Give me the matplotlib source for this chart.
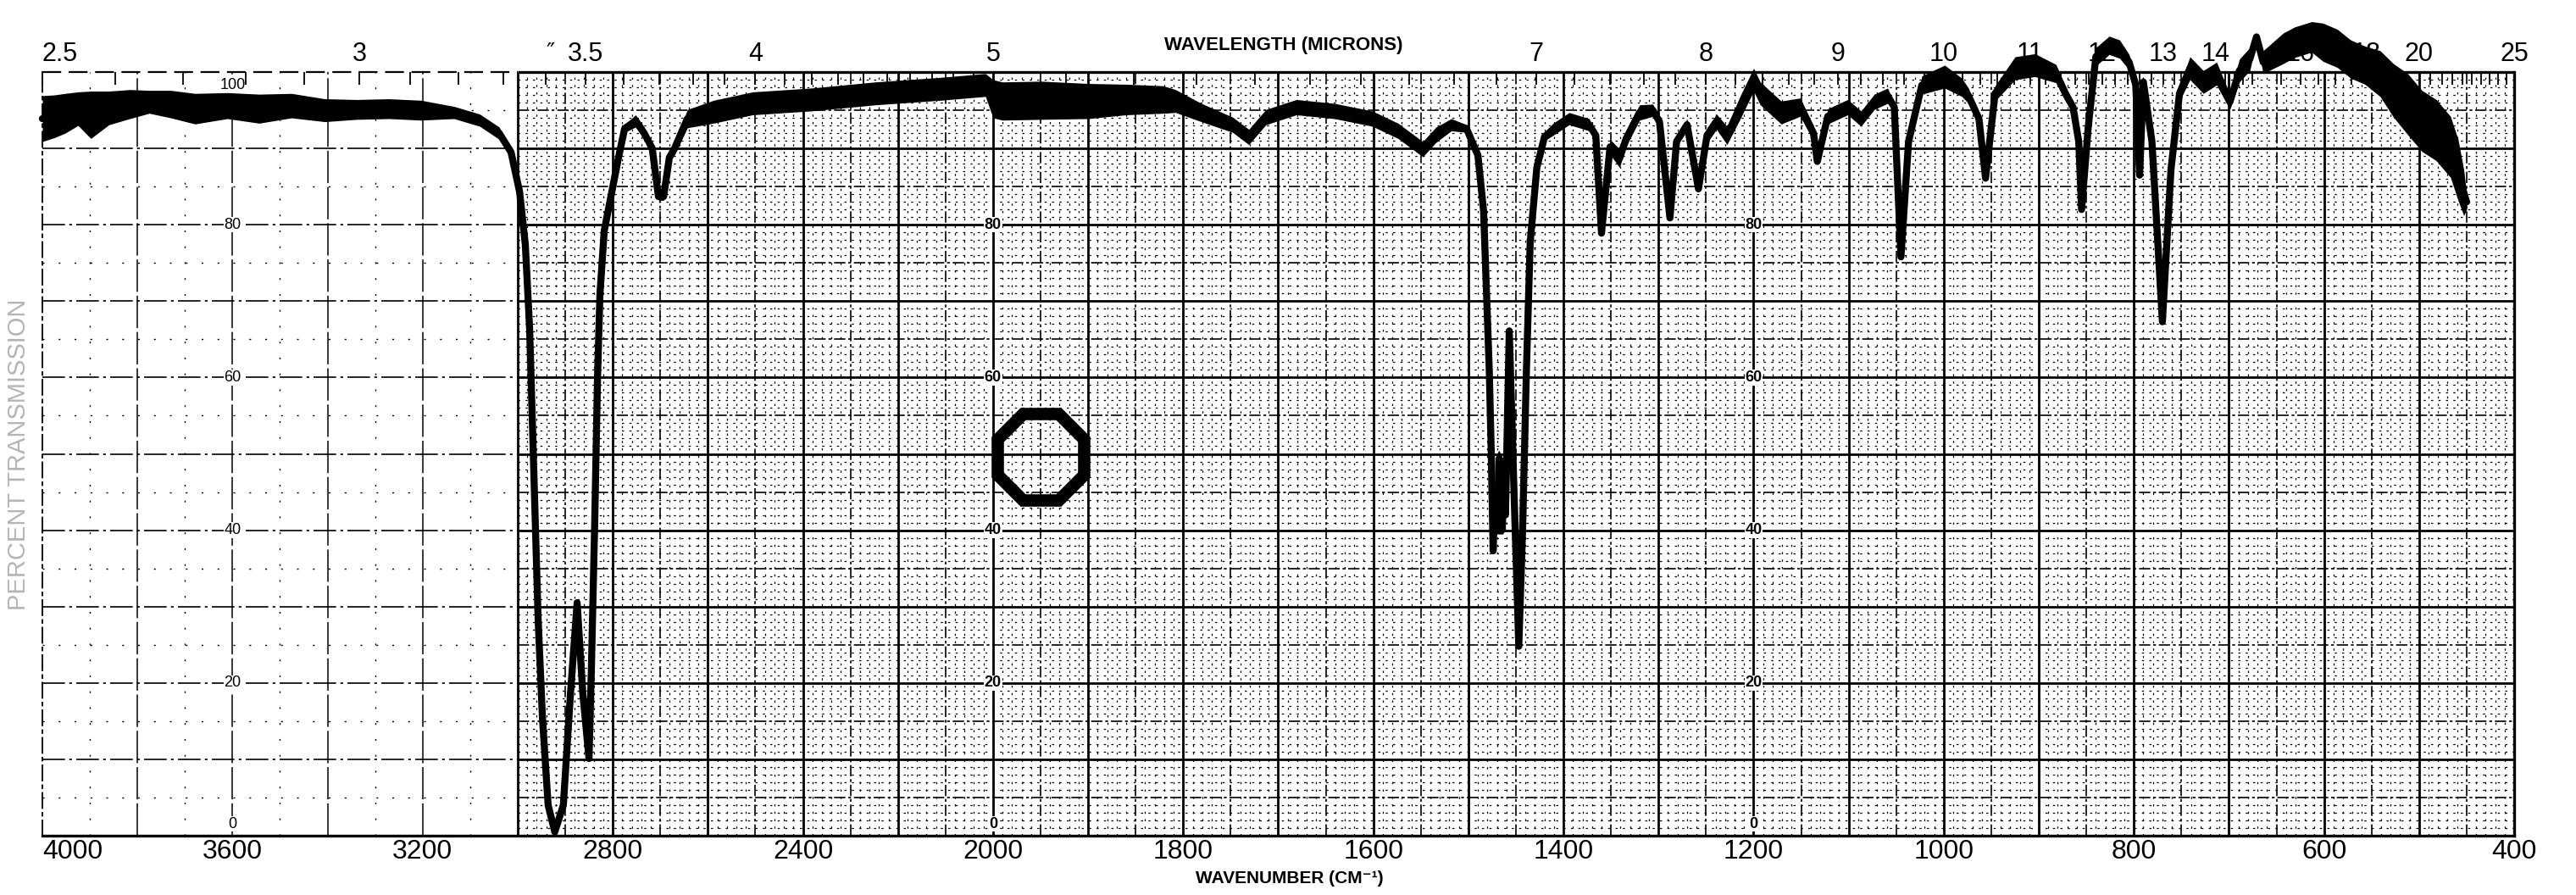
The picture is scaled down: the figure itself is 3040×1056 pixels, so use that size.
import numpy as np
import matplotlib
matplotlib.use('Agg')
import matplotlib.pyplot as plt
from matplotlib.ticker import FixedLocator

plt.rcParams['font.family'] = ['Liberation Sans', 'DejaVu Sans']

# ---------------- data ----------------
wavenumber = [4000, 3975, 3952, 3925, 3898, 3860, 3816, 3775, 3730, 3679,
              3611, 3544, 3476, 3406, 3339, 3271, 3203, 3134, 3080, 3039,
              3014, 2996, 2984, 2975, 2969, 2963, 2957, 2948, 2936, 2922,
              2904, 2889, 2875, 2863, 2850, 2845, 2838, 2832, 2827, 2818,
              2802, 2788, 2775, 2752, 2734, 2717, 2704, 2693, 2681, 2670,
              2643, 2588, 2506, 2383, 2248, 2111, 2016, 2000, 1990, 1950,
              1900, 1860, 1821, 1808, 1781, 1748, 1731, 1713, 1681, 1641,
              1601, 1574, 1548, 1534, 1518, 1502, 1490, 1484, 1481, 1478,
              1476, 1474, 1472, 1468, 1464, 1461, 1457, 1452, 1447, 1443,
              1439, 1435, 1428, 1420, 1411, 1394, 1373, 1366, 1360, 1351,
              1341, 1334, 1320, 1306, 1299, 1288, 1281, 1270, 1258, 1249,
              1239, 1228, 1214, 1200, 1193, 1171, 1151, 1137, 1133, 1122,
              1101, 1087, 1073, 1059, 1052, 1045, 1037, 1023, 999, 981,
              974, 963, 956, 946, 925, 904, 882, 872, 864, 858,
              855, 848, 840, 826, 815, 805, 798, 794, 790, 781,
              770, 761, 752, 741, 727, 713, 699, 689, 678, 671,
              664, 643, 631, 613, 601, 586, 572, 557, 541, 527,
              512, 497, 482, 467, 459, 453, 450]
transmittance = [93.9, 94.2, 94.6, 95.2, 94.4, 95.3, 95.8, 96.1, 95.8, 95.2,
                 95.6, 95.2, 95.6, 95.0, 95.1, 95.2, 95.0, 94.7, 93.7, 92.0,
                 89.5, 84.3, 77.4, 66.5, 53.7, 41.0, 28.3, 15.5, 4.0, 0.5,
                 4.0, 18.6, 30.5, 18.6, 10.1, 21.9, 41.0, 60.2, 70.9, 79.2,
                 84.3, 88.8, 92.6, 93.6, 92.0, 90.0, 83.7, 83.7, 88.8, 90.0,
                 93.9, 94.8, 95.9, 96.4, 97.2, 97.8, 98.3, 96.5, 96.2, 96.3,
                 96.2, 96.4, 96.4, 96.2, 94.7, 93.1, 91.5, 94.1, 95.4, 94.9,
                 93.9, 92.3, 89.9, 91.8, 93.1, 92.6, 89.1, 81.8, 71.4, 60.8,
                 50.4, 37.3, 44.5, 45.0, 44.5, 42.0, 66.1, 45.0, 24.8, 40.0,
                 60.8, 77.7, 87.5, 91.5, 92.5, 93.9, 93.1, 91.7, 78.9, 90.2,
                 88.7, 91.3, 94.7, 95.0, 93.5, 80.9, 90.9, 93.1, 84.7, 91.7,
                 93.5, 91.7, 95.4, 99.0, 97.2, 94.7, 95.4, 92.0, 88.3, 94.2,
                 95.4, 93.9, 96.1, 96.9, 95.4, 75.8, 90.9, 98.3, 99.4, 98.0,
                 96.9, 93.9, 86.1, 97.2, 100.5, 100.9, 99.8, 97.2, 95.4, 90.9,
                 82.0, 92.8, 102.0, 103.5, 103.0, 101.3, 98.3, 86.5, 98.7, 90.9,
                 67.3, 87.2, 97.2, 100.5, 98.7, 99.8, 96.1, 100.2, 101.7, 104.6,
                 101.3, 103.1, 103.9, 104.6, 103.9, 103.1, 101.7, 100.9, 99.8, 97.6,
                 95.8, 93.6, 92.4, 90.2, 87.2, 84.2, 83.0]
# half-thickness of the noisy pen trace (% T)
trace_spread = [3.0, 2.8, 2.6, 2.2, 3.1, 2.2, 1.9, 1.5, 1.8, 2.0,
                1.7, 1.9, 1.6, 1.5, 1.3, 1.3, 1.3, 0.8, 0.8, 0.8,
                0.3, 0, 0, 0, 0, 0, 0, 0, 0, 0,
                0, 0, 0, 0, 0, 0, 0, 0, 0, 0,
                0, 0, 0.5, 0.8, 0.8, 0.5, 0.5, 0.5, 0.5, 0.8,
                1.2, 1.5, 1.5, 1.5, 1.5, 1.5, 1.5, 2.5, 2.5, 2.5,
                2.3, 2.0, 1.8, 1.5, 1.2, 1.0, 1.0, 1.0, 1.0, 1.0,
                1.0, 1.0, 1.0, 1.0, 0.8, 0.5, 0, 0, 0, 0,
                0, 0, 5.0, 5.5, 5.0, 2.0, 0, 0, 0, 0,
                0, 0, 0, 0.5, 0.8, 0.8, 0.8, 0.5, 0, 1.0,
                1.2, 1.0, 1.0, 0.8, 0.5, 0, 0.5, 0.8, 0.3, 1.0,
                1.0, 1.2, 1.5, 1.5, 1.5, 1.5, 1.2, 1.0, 0.5, 1.0,
                1.0, 1.0, 1.0, 1.0, 0.5, 0, 0.5, 1.2, 1.5, 1.2,
                1.0, 0.5, 0, 1.0, 1.5, 1.5, 1.2, 1.0, 0.5, 0.3,
                0, 0.5, 1.2, 1.2, 1.2, 1.0, 0.5, 0, 0, 0,
                0, 0, 1.0, 1.5, 1.5, 1.5, 1.0, 1.5, 1.5, 0.5,
                1.5, 2.0, 2.0, 2.0, 2.5, 2.5, 2.5, 2.5, 3.0, 3.5,
                4.0, 4.0, 4.0, 4.0, 4.0, 3.0, 1.0]

bottom_ticks = [4000, 3600, 3200, 2800, 2400, 2000, 1800, 1600, 1400, 1200, 1000, 800, 600, 400]
bottom_labels = ['4000', '3600', '3200', '2800', '2400', '2000', '1800', '1600', '1400',
                 '1200', '1000', '800', '600', '400']
top_wavelengths = [2.5, 3, 3.5, 4, 5, 7, 8, 9, 10, 11, 12, 13, 14, 16, 18, 20, 25]
top_labels = ['2.5', '3', '3.5', '4', '5', '7', '8', '9', '10', '11', '12', '13', '14',
              '16', '18', '20', '25']
pct_values = [0, 20, 40, 60, 80, 100]
pct_label_columns = [3600, 2000, 1200]
sample_mark_wn = [1950]
sample_mark_t = [49.6]


# ---------------- chart-paper x scale (4000-2000 at half scale) ----------------
def fwd(v):
    v = np.asarray(v, dtype=float)
    return np.where(v > 2000, 2000 + (v - 2000) / 2.0, v)


def inv(p):
    p = np.asarray(p, dtype=float)
    return np.where(p > 2000, 2000 + (p - 2000) * 2.0, p)


W, H = 3040, 1056
fig = plt.figure(figsize=(W / 100, H / 100), dpi=100)
ax = fig.add_axes([50 / W, 70 / H, 2917 / W, 901 / H])
ax.set_xscale('function', functions=(fwd, inv))
ax.set_xlim(4000, 400)
ax.set_ylim(0, 100)

K = 'black'
BOLD, MED, MIN = 2.0, 1.2, 0.9
DENSE = 3000

# horizontal chart-paper lines
for y in range(10, 100, 10):
    ax.hlines(y, DENSE, 400, color=K, lw=BOLD, zorder=1)
    ax.hlines(y, 4000, DENSE, color=K, lw=1.2, linestyles=(0, (16, 3, 2, 3)), zorder=1)
for y in range(5, 100, 10):
    ax.hlines(y, DENSE, 400, color=K, lw=MED, linestyles=(0, (8, 2, 2, 2)), zorder=1)
    ax.hlines(y, 4000, DENSE, color=K, lw=1.0, linestyles=(0, (1.5, 12)), zorder=1)
minor_y = [y for y in range(1, 100) if y % 5]
ax.hlines(minor_y, DENSE, 400, color=K, lw=MIN, linestyles=(0, (2, 5)), zorder=1)
ax.hlines(100, DENSE, 400, color=K, lw=2.4, zorder=2, clip_on=False)
ax.hlines(100, 4000, DENSE, color=K, lw=1.6, linestyles=(0, (10, 4)), zorder=2, clip_on=False)

# vertical chart-paper lines
bold_v = list(range(3000, 2000, -200)) + list(range(2000, 400, -100))
med_v = list(range(2900, 2000, -200)) + list(range(1950, 400, -100))
minor_v = [v for v in range(2980, 2000, -20) if v % 100] + [v for v in range(1990, 400, -10) if v % 50]
ax.vlines(bold_v, 0, 100, color=K, lw=BOLD, zorder=1)
ax.vlines(med_v, 0, 100, color=K, lw=MED, linestyles=(0, (8, 2, 2, 2)), zorder=1)
ax.vlines(minor_v, 0, 100, color=K, lw=MIN, linestyles=(0, (2, 5)), zorder=1)
ax.vlines([3800, 3600, 3400, 3200], 0, 100, color=K, lw=1.1, linestyles=(0, (25, 3)), zorder=1)
ax.vlines([3900, 3700, 3500, 3300, 3100], 0, 100, color=K, lw=1.0, linestyles=(0, (1.5, 12)), zorder=1)

ax.spines['top'].set_visible(False)
ax.spines['left'].set_linestyle((0, (10, 3, 2, 3)))
ax.spines['left'].set_linewidth(1.3)
ax.spines['bottom'].set_linewidth(2.4)
ax.spines['right'].set_linewidth(2.4)

# bottom wavenumber labels
ax.set_xticks(bottom_ticks, labels=bottom_labels)
ax.tick_params(axis='x', which='both', length=0, pad=3, labelsize=23)
ax.xaxis.set_minor_locator(FixedLocator([]))
xl = ax.get_xticklabels()
xl[0].set_horizontalalignment('left')
ax.set_yticks([])

# inline percent labels
for col in pct_label_columns:
    for v in pct_values:
        if col != 3600 and v == 100:
            continue
        va = 'bottom' if v == 0 else ('top' if v == 100 else 'center')
        yy = v + 0.6 if v == 0 else (v - 0.8 if v == 100 else v)
        ax.text(col, yy, str(v), ha='center', va=va, fontsize=13,
                fontweight='bold' if col != 3600 else 'normal', zorder=3,
                bbox=dict(fc='white', ec='none', pad=0.5))

# top wavelength axis
ax2 = ax.twiny()
ax2.set_xscale('function', functions=(fwd, inv))
ax2.set_xlim(4000, 400)
ax2.set_xticks([10000.0 / w for w in top_wavelengths], labels=top_labels)
minor_wl = ([round(x, 1) for x in np.arange(2.6, 5.0, 0.1) if round(x, 1) not in (3.0, 3.5, 4.0)] +
            [round(x, 1) for x in np.arange(5.2, 15.0, 0.2) if abs(x - round(x)) > 0.05 or round(x) in (6, 15)] +
            [x for x in np.arange(15.5, 25.0, 0.5) if x not in (16, 18, 20)])
ax2.xaxis.set_minor_locator(FixedLocator([10000.0 / w for w in minor_wl]))
ax2.tick_params(axis='x', which='both', direction='in', length=11, width=1.3, pad=4,
                labelsize=22, top=True, bottom=False)
ax2.get_xticklabels()[0].set_horizontalalignment('left')
for s in ax2.spines.values():
    s.set_visible(False)
ax2.set_yticks([])

# spectrum trace (pen), may exceed 100 % above the frame
wn = np.array(wavenumber, dtype=float)
t = np.array(transmittance, dtype=float)
sp = np.array(trace_spread, dtype=float)
ax.fill_between(wn, t - sp, t + sp, color=K, lw=0, zorder=4, clip_on=False)
ax.plot(wn, t, color=K, lw=6, solid_joinstyle='round', solid_capstyle='round',
        zorder=5, clip_on=False)

# sample-cell marker (octagon)
ax.plot(sample_mark_wn, sample_mark_t, ls='none', marker='8', ms=80, mfc='none',
        mec=K, mew=10.5, zorder=5)

# titles
fig.text(1515 / W, 1 - 53 / H, 'WAVELENGTH (MICRONS)', ha='center', va='center',
         fontsize=16, fontweight='bold')
fig.text(1522 / W, 1 - 1036 / H, 'WAVENUMBER (CM\u207b\u00b9)', ha='center', va='center',
         fontsize=15, fontweight='bold', family=['Liberation Sans', 'DejaVu Sans'])
fig.text(22 / W, 1 - 536 / H, 'PERCENT TRANSMISSION', rotation=90, ha='center', va='center',
         fontsize=21, color='#b5b5b5')
fig.text(650 / W, 1 - 63 / H, '\u2033', ha='center', va='center', fontsize=20,
         family=['DejaVu Sans'])

fig.savefig('out.png', dpi=100, facecolor='white')
